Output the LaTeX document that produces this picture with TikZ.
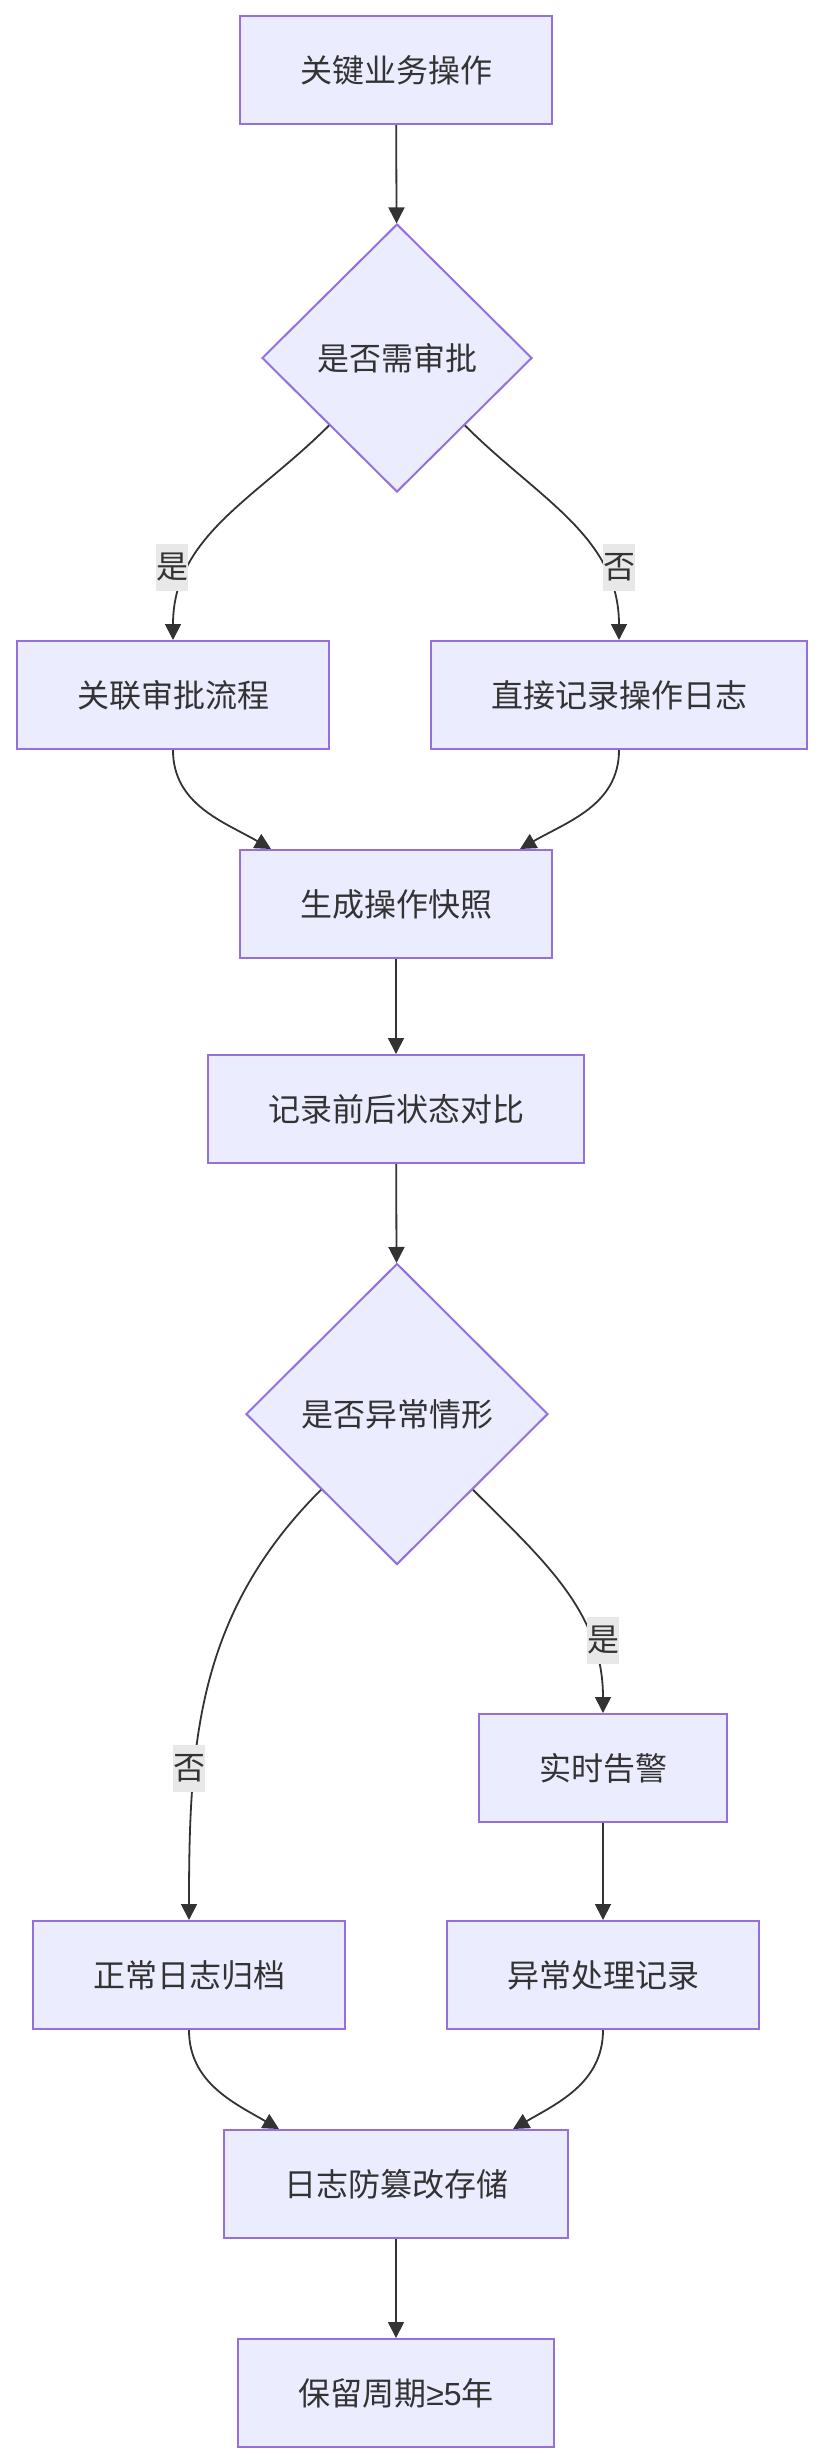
\documentclass[tikz,border=0pt]{standalone}
\usepackage{fontspec}
\setmainfont{Noto Sans CJK SC}
\newfontfamily\latinfont{Liberation Sans}
\usetikzlibrary{shapes.geometric,arrows.meta}
\definecolor{nodefill}{HTML}{ECECFF}
\definecolor{nodeline}{HTML}{9370DB}
\definecolor{ink}{HTML}{333333}
\definecolor{labelbg}{HTML}{E8E8E8}
\begin{document}
\begin{tikzpicture}[x=1pt,y=1pt,
  every node/.style={font=\fontsize{32}{38}\selectfont, text=ink},
  procbox/.style={rectangle, fill=nodefill, draw=nodeline, line width=2pt, minimum height=108pt, inner xsep=60pt},
  decision/.style={diamond, aspect=1, fill=nodefill, draw=nodeline, line width=2pt, inner sep=0pt},
  flow/.style={draw=ink, line width=1.8pt, -{Triangle[length=16pt,width=16pt]}},
  elabel/.style={fill=labelbg, inner sep=0pt, minimum width=31pt, minimum height=47pt}]
\useasboundingbox (0,0) rectangle (820,-2460);
\node[procbox] (A) at (396,-70) {关键业务操作};
\node[decision, minimum width=270pt, minimum height=268pt] (B) at (397,-358) {是否需审批};
\node[procbox] (C) at (173,-695) {关联审批流程};
\node[procbox] (D) at (619,-695) {直接记录操作日志};
\node[procbox] (E) at (396,-904) {生成操作快照};
\node[procbox] (F) at (396,-1109) {记录前后状态对比};
\node[decision, minimum width=302pt, minimum height=301pt] (G) at (397,-1414) {是否异常情形};
\node[procbox] (H) at (603,-1768) {实时告警};
\node[procbox] (I) at (189,-1975) {正常日志归档};
\node[procbox] (J) at (603,-1975) {异常处理记录};
\node[procbox] (K) at (396,-2184) {日志防篡改存储};
\node[procbox] (L) at (396,-2393) {保留周期{\latinfont ≥5}年};
\draw[flow] (A) -- (B);
\draw[flow] (B.south west) to[out=-135,in=90] (C.north);
\draw[flow] (B.south east) to[out=-45,in=90] (D.north);
\draw[flow] (C.south) to[out=-90,in=150] ([xshift=32pt]E.north west);
\draw[flow] (D.south) to[out=-90,in=30] ([xshift=-33pt]E.north east);
\draw[flow] (E) -- (F);
\draw[flow] (F) -- (G);
\draw[flow] (G.south east) to[out=-45,in=90] (H.north);
\draw[flow] (G.south west) to[out=-135,in=90] (I.north);
\draw[flow] (H) -- (J);
\draw[flow] (I.south) to[out=-90,in=150] ([xshift=56pt]K.north west);
\draw[flow] (J.south) to[out=-90,in=30] ([xshift=-56pt]K.north east);
\draw[flow] (K) -- (L);
\node[elabel] (yesB) at (172,-567) {是};
\node[elabel] (noB) at (619,-567) {否};
\node[elabel] (yesG) at (603,-1640) {是};
\node[elabel] (noG) at (189,-1768) {否};
\end{tikzpicture}
\end{document}
